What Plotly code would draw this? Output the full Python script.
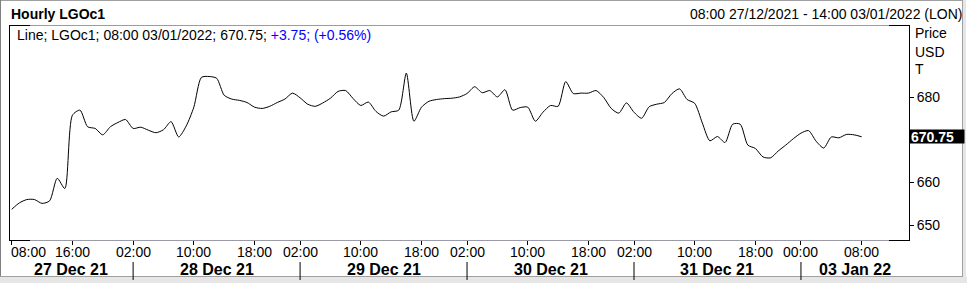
import plotly.graph_objects as go

# ---------------- data ----------------
TITLE = "Hourly LGOc1"
RANGE_TEXT = "08:00 27/12/2021 - 14:00 03/01/2022 (LON)"
RIC = "LGOc1"

session_days = ["2021-12-27", "2021-12-28", "2021-12-29", "2021-12-30", "2021-12-31", "2022-01-03"]
session_first_hour = [8, 2, 2, 2, 2, 0]
session_last_hour = [23, 23, 23, 23, 23, 14]
day_labels = ["27 Dec 21", "28 Dec 21", "29 Dec 21", "30 Dec 21", "31 Dec 21", "03 Jan 22"]

tick_times = ["2021-12-27 08:00", "2021-12-27 16:00", "2021-12-28 02:00", "2021-12-28 10:00",
              "2021-12-28 18:00", "2021-12-29 02:00", "2021-12-29 10:00", "2021-12-29 18:00",
              "2021-12-30 02:00", "2021-12-30 10:00", "2021-12-30 18:00", "2021-12-31 02:00",
              "2021-12-31 10:00", "2021-12-31 18:00", "2022-01-03 00:00", "2022-01-03 08:00"]

prices = [653.7, 655.2, 656.0, 656.0, 655.1, 655.7, 661.0, 658.6, 675.8, 677.0,
          673.1, 672.7, 671.2, 673.1, 674.1, 674.8, 672.7, 673.0, 672.3, 671.7,
          672.4, 674.3, 670.7, 673.3, 677.7, 684.7, 684.9, 684.5, 680.5, 679.6,
          679.3, 678.8, 677.7, 677.4, 677.9, 678.8, 679.6, 681.0, 679.9, 678.4,
          677.9, 678.7, 679.8, 681.4, 681.6, 679.7, 678.1, 678.9, 676.7, 675.6,
          676.6, 677.0, 685.7, 674.4, 677.7, 679.1, 679.5, 679.7, 679.8, 680.1,
          680.9, 682.5, 681.1, 681.6, 680.1, 681.8, 677.0, 677.6, 677.7, 674.4,
          676.5, 678.1, 677.9, 683.7, 680.9, 681.0, 681.0, 681.6, 680.0, 677.4,
          676.3, 678.7, 676.5, 675.1, 677.8, 678.4, 678.8, 680.9, 682.0, 679.5,
          678.6, 674.0, 669.8, 670.8, 669.4, 673.7, 673.7, 668.8, 668.0, 666.0,
          665.8, 667.4, 668.8, 670.3, 671.6, 672.2, 669.7, 668.1, 670.7, 670.5,
          671.3, 671.2, 670.75]
price_change = 3.75
y_ticks = [650, 660, 680]
y_range = [646.5, 697.0]

# ---------------- slots (trading hours only) ----------------
slot_times = []
day_first_slot = []
for d, h0, h1 in zip(session_days, session_first_hour, session_last_hour):
    day_first_slot.append(len(slot_times))
    for h in range(h0, h1 + 1):
        slot_times.append(f"{d} {h:02d}:00")
slot_index = {t: i for i, t in enumerate(slot_times)}
x_vals = list(range(len(prices)))
tick_vals = [slot_index[t] for t in tick_times]
tick_text = [t[-5:] for t in tick_times]

# pixel layout helpers
W, H = 968, 286
L, R, T, B = 9, 909, 25, 240
STEP = 7.589
X0 = 11.7
x_lo = (L - X0) / STEP
x_hi = (R - X0) / STEP


def px(x):
    return (x - L) / (R - L)


def py(y):
    return (B - y) / (B - T)


FONT = "Arial, 'Liberation Sans', sans-serif"

fig = go.Figure()
fig.add_trace(go.Scatter(x=x_vals, y=prices, mode="lines",
                         line=dict(color="black", width=1, shape="spline", smoothing=0.7),
                         hoverinfo="skip"))

last_t = slot_times[len(prices) - 1]
last_label = f"{last_t[11:16]} {last_t[8:10]}/{last_t[5:7]}/{last_t[0:4]}"
last_price = prices[-1]
pct = price_change / (last_price - price_change) * 100

ann = []
ann.append(dict(x=px(9), y=py(14), xref="paper", yref="paper", xanchor="left", yanchor="middle",
                text=f"<b>{TITLE}</b>", showarrow=False, font=dict(size=14, color="black", family=FONT)))
ann.append(dict(x=px(964), y=py(14), xref="paper", yref="paper", xanchor="right", yanchor="middle",
                text=RANGE_TEXT, showarrow=False, font=dict(size=14, color="black", family=FONT)))
ann.append(dict(x=px(15), y=py(34.5), xref="paper", yref="paper", xanchor="left", yanchor="middle",
                text=(f"Line; {RIC}; {last_label}; {last_price:.2f}; "
                      f"<span style='color:#0000ff'>{price_change:+.2f}; ({pct:+.2f}%)</span>"),
                showarrow=False, font=dict(size=14, color="black", family=FONT)))
for txt, yy in zip(["Price", "USD", "T"], [33, 51.5, 69]):
    ann.append(dict(x=px(913), y=py(yy), xref="paper", yref="paper", xanchor="left", yanchor="middle",
                    text=txt, showarrow=False, font=dict(size=14, color="black", family=FONT)))
for i, (tv, tt) in enumerate(zip(tick_vals, tick_text)):
    if i == 0:
        ann.append(dict(x=x_lo, y=py(252), xref="x", yref="paper", xanchor="left", yanchor="middle",
                        text=tt, showarrow=False, font=dict(size=14, color="black", family=FONT)))
    else:
        ann.append(dict(x=tv, y=py(252), xref="x", yref="paper", xanchor="center", yanchor="middle",
                        text=tt, showarrow=False, font=dict(size=14, color="black", family=FONT)))
bounds = [x_lo] + [s - 0.0 for s in day_first_slot[1:]] + [x_hi]
for i, lab in enumerate(day_labels):
    ann.append(dict(x=(bounds[i] + bounds[i + 1]) / 2, y=py(269.5), xref="x", yref="paper",
                    xanchor="center", yanchor="middle", text=f"<b>{lab}</b>", showarrow=False,
                    font=dict(size=16, color="black", family=FONT)))
ann.append(dict(x=px(909), y=last_price, xref="paper", yref="y", xanchor="left", yanchor="middle",
                text=f"<b>{last_price:.2f}</b>", showarrow=False, bgcolor="black", align="left",
                width=52, height=11, borderpad=1,
                font=dict(size=14, color="white", family=FONT)))

shapes = []
# outer frame
shapes.append(dict(type="rect", xref="paper", yref="paper", x0=px(0), x1=px(967), y0=py(277), y1=py(283),
                   fillcolor="#e6e6e6", line=dict(width=0), layer="below"))
shapes.append(dict(type="rect", xref="paper", yref="paper", x0=px(963), x1=px(966), y0=py(0), y1=py(283),
                   fillcolor="#e6e6e6", line=dict(width=0), layer="below"))
shapes.append(dict(type="line", xref="paper", yref="paper", x0=px(0), x1=px(963), y0=py(0.5), y1=py(0.5),
                   line=dict(color="#a0a0a0", width=1)))
shapes.append(dict(type="line", xref="paper", yref="paper", x0=px(0.5), x1=px(0.5), y0=py(0), y1=py(277),
                   line=dict(color="#808080", width=1)))
shapes.append(dict(type="line", xref="paper", yref="paper", x0=px(0), x1=px(963), y0=py(276.5), y1=py(276.5),
                   line=dict(color="#a0a0a0", width=1)))
shapes.append(dict(type="line", xref="paper", yref="paper", x0=px(962.5), x1=px(962.5), y0=py(0), y1=py(277),
                   line=dict(color="#a0a0a0", width=1)))
# plot frame
for yy in (25.5, 240.5):
    shapes.append(dict(type="line", xref="paper", yref="paper", x0=px(9), x1=px(910), y0=py(yy), y1=py(yy),
                       line=dict(color="#9a9aa8", width=1)))
    shapes.append(dict(type="line", xref="paper", yref="paper", x0=px(9), x1=px(30), y0=py(yy), y1=py(yy),
                       line=dict(color="black", width=1)))
    shapes.append(dict(type="line", xref="paper", yref="paper", x0=px(889), x1=px(910), y0=py(yy), y1=py(yy),
                       line=dict(color="black", width=1)))
for xx in (9.5, 909.5):
    shapes.append(dict(type="line", xref="paper", yref="paper", x0=px(xx), x1=px(xx), y0=py(25), y1=py(241),
                       line=dict(color="black", width=1)))
# day separators
for s in day_first_slot[1:]:
    shapes.append(dict(type="line", xref="x", yref="paper", x0=s, x1=s, y0=py(262), y1=py(280),
                       line=dict(color="black", width=1)))

fig.update_layout(
    width=W, height=H,
    margin=dict(l=L, r=W - R, t=T, b=H - B, autoexpand=False),
    paper_bgcolor="white", plot_bgcolor="white",
    showlegend=False,
    font=dict(family=FONT, size=14, color="black"),
    annotations=ann, shapes=shapes,
    xaxis=dict(range=[x_lo, x_hi], tickvals=tick_vals, ticktext=tick_text, showticklabels=False,
               ticks="outside", ticklen=4, tickwidth=1, tickcolor="black",
               showgrid=False, zeroline=False, showline=False, fixedrange=True),
    yaxis=dict(range=y_range, side="right", tickvals=y_ticks, ticks="outside", ticklen=4,
               tickwidth=1, tickcolor="black", tickfont=dict(size=14, color="black", family=FONT),
               showgrid=False, zeroline=False, showline=False, fixedrange=True),
)

fig.write_html("out.html")
